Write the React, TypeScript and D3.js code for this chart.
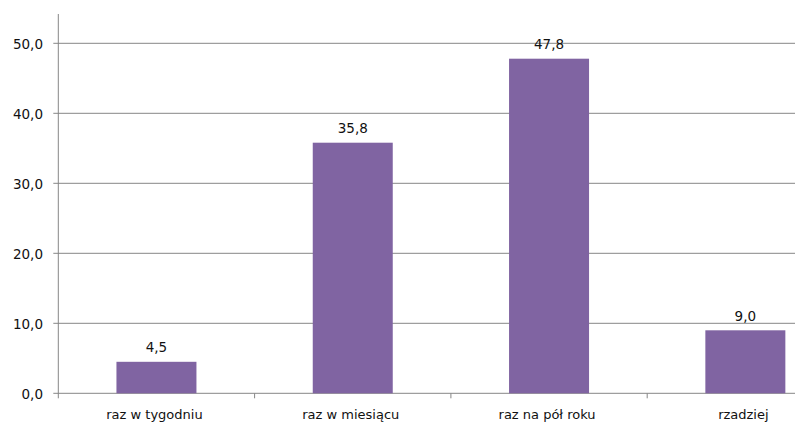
import React from "react";
import * as d3 from "d3";

const categories = ["raz w tygodniu", "raz w miesiącu", "raz na pół roku", "rzadziej"];
const values = [4.5, 35.8, 47.8, 9.0];
const yTicks = [0, 10, 20, 30, 40, 50];

const W = 795;
const H = 427;
const left = 58.3;
const bandW = 196.3;
const y0 = 393.3;
const y50 = 43.3;
const axisTop = 14;

const fmt = (v: number) => v.toFixed(1).replace(".", ",");

export default function App() {
  const x = d3
    .scaleBand<string>()
    .domain(categories)
    .range([left, left + bandW * categories.length])
    .paddingInner(0)
    .paddingOuter(0);
  const y = d3.scaleLinear().domain([0, 50]).range([y0, y50]);
  const barW = 80;
  const font = "DejaVu Sans, sans-serif";
  const textColor = "#111";
  const gridColor = "#868686";

  return (
    <svg
      width={W}
      height={H}
      style={{ position: "absolute", left: 0, top: 0, background: "#fff" }}
      fontFamily={font}
    >
      {yTicks.map((t) => (
        <g key={t}>
          <line x1={left - 5} x2={W} y1={y(t)} y2={y(t)} stroke={gridColor} strokeWidth={1} />
          <text
            x={43}
            y={y(t)}
            dy="0.4em"
            textAnchor="end"
            fontSize={13.5}
            fill={textColor}
          >
            {fmt(t)}
          </text>
        </g>
      ))}
      <line x1={left} x2={left} y1={axisTop} y2={y0} stroke={gridColor} strokeWidth={1} />
      {categories.map((c, i) => (
        <line
          key={"t" + i}
          x1={x(c)!}
          x2={x(c)!}
          y1={y0}
          y2={y0 + 5}
          stroke={gridColor}
          strokeWidth={1}
        />
      ))}
      {categories.map((c, i) => {
        const cx = x(c)! + x.bandwidth() / 2;
        return (
          <g key={c}>
            <rect
              x={cx - barW / 2}
              y={y(values[i])}
              width={barW}
              height={y0 - y(values[i])}
              fill="#8064A2"
            />
            <text
              x={cx}
              y={y(values[i]) - 9.5}
              textAnchor="middle"
              fontSize={13.5}
              fill={textColor}
            >
              {fmt(values[i])}
            </text>
            <text x={cx - 2} y={419} textAnchor="middle" fontSize={13} fill={textColor}>
              {c}
            </text>
          </g>
        );
      })}
    </svg>
  );
}
